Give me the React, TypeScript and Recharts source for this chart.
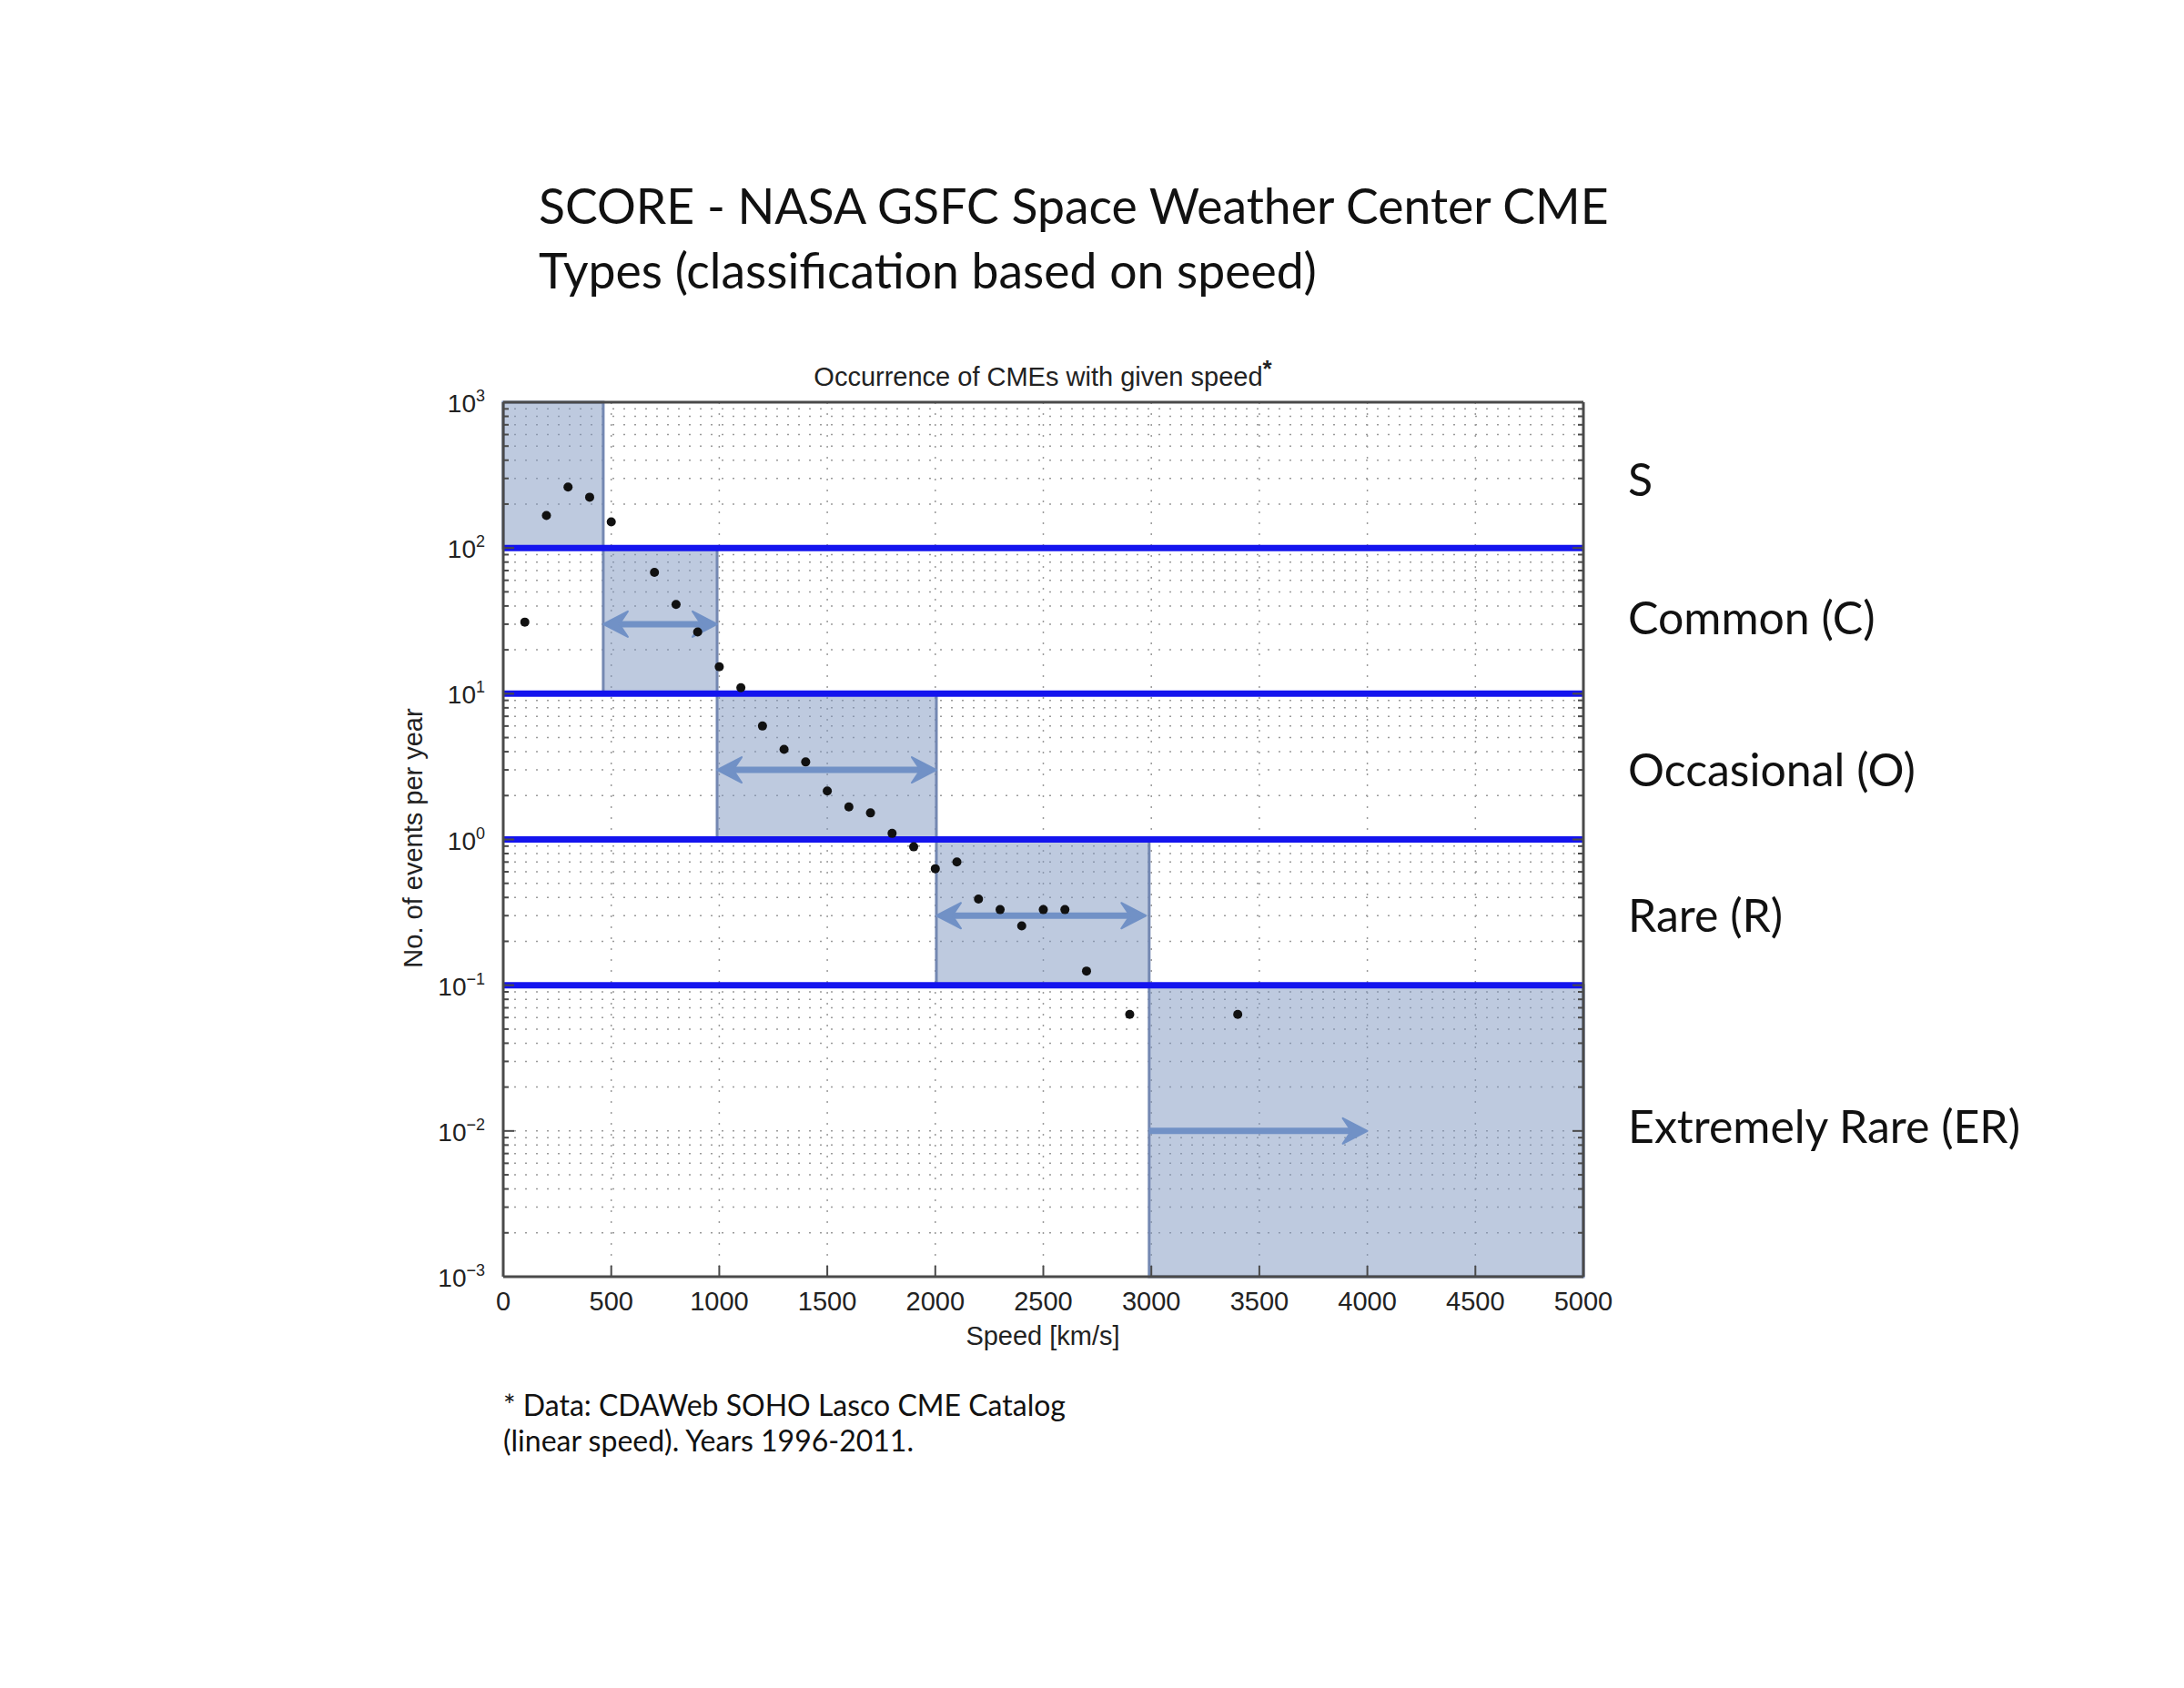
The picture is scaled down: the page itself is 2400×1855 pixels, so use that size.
import React from 'react';
import {
  CartesianGrid,
  ComposedChart,
  ReferenceArea,
  ReferenceLine,
  Scatter,
  XAxis,
  YAxis,
} from 'recharts';

// CME occurrence per 100 km/s speed bin
const speeds = [
  100, 200, 300, 400, 500, 700, 800, 900, 1000, 1100, 1200, 1300, 1400, 1500,
  1600, 1700, 1800, 1900, 2000, 2100, 2200, 2300, 2400, 2500, 2600, 2700, 2900, 3400,
];
const eventsPerYear = [
  31, 167, 262, 223, 151, 68, 41, 26.5, 15.3, 11, 6.0, 4.15, 3.4, 2.15,
  1.67, 1.52, 1.1, 0.89, 0.63, 0.7, 0.39, 0.33, 0.255, 0.33, 0.33, 0.125, 0.063, 0.063,
];

const xTicks = [0, 500, 1000, 1500, 2000, 2500, 3000, 3500, 4000, 4500, 5000];
const decades = [0.001, 0.01, 0.1, 1, 10, 100, 1000];
const minorSteps = [2, 3, 4, 5, 6, 7, 8, 9];

// classification boxes
const classLabels = ['S', 'Common (C)', 'Occasional (O)', 'Rare (R)', 'Extremely Rare (ER)'];
const classSpeedFrom = [0, 463, 990, 2005, 2990];
const classSpeedTo = [463, 990, 2005, 2990, 5000];
const classEventsLow = [100, 10, 1, 0.1, 0.001];
const classEventsHigh = [1000, 100, 10, 1, 0.1];
const thresholds = [100, 10, 1, 0.1];

// range arrows
const arrowFrom = [463, 990, 2005, 2990];
const arrowTo = [990, 2005, 2975, 4000];
const arrowLevel = [30, 3, 0.3, 0.01];
const arrowBothEnds = [true, true, true, false];

const points = speeds.map((speed, i) => ({ speed, events: eventsPerYear[i] }));
const yTicks = decades
  .slice(0, -1)
  .flatMap((d) => [d, ...minorSteps.map((m) => +(d * m).toPrecision(3))])
  .concat([1000]);

const isDecade = (v: number) => Math.abs(Math.log10(v) - Math.round(Math.log10(v))) < 1e-6;

const HELV = '"Liberation Sans", Arial, sans-serif';
const CALIBRI = 'Lato, "Open Sans", sans-serif';
const AXIS = '#4a4a4a';
const ARROW = '#7191c6';

function BottomTick(props: any) {
  const { x, y, payload } = props;
  return (
    <g>
      <line x1={x} y1={y} x2={x} y2={y - 12} stroke={AXIS} strokeWidth={2} />
      <text x={x} y={y + 37} textAnchor="middle" fontFamily={HELV} fontSize={29} fill="#222">
        {payload.value}
      </text>
    </g>
  );
}

function TopTick(props: any) {
  const { x, y } = props;
  return <line x1={x} y1={y} x2={x} y2={y + 12} stroke={AXIS} strokeWidth={2} />;
}

function LeftTick(props: any) {
  const { x, y, payload } = props;
  const major = isDecade(payload.value);
  const exp = Math.round(Math.log10(payload.value));
  return (
    <g>
      <line x1={x} y1={y} x2={x + (major ? 12 : 6)} y2={y} stroke={AXIS} strokeWidth={2} />
      {major && (
        <text x={x - 20} y={y + 11} textAnchor="end" fontFamily={HELV} fontSize={28} fill="#222">
          10
          <tspan dy={-12} fontSize={18}>
            {exp < 0 ? `\u2212${-exp}` : exp}
          </tspan>
        </text>
      )}
    </g>
  );
}

function RightTick(props: any) {
  const { x, y, payload } = props;
  const major = isDecade(payload.value);
  return <line x1={x} y1={y} x2={x - (major ? 12 : 6)} y2={y} stroke={AXIS} strokeWidth={2} />;
}

function Arrow(props: any) {
  const { x1, y1, x2, y2, both } = props;
  const len = 27;
  const half = 14;
  const head = (tx: number, dir: number) => {
    const bx = tx - dir * len;
    const nx = tx - dir * len * 0.65;
    return (
      <polygon
        points={`${tx},${y2} ${bx},${y2 - half} ${nx},${y2} ${bx},${y2 + half}`}
        fill={ARROW}
        stroke={ARROW}
        strokeWidth={2}
        strokeLinejoin="round"
      />
    );
  };
  const start = both ? x1 + len * 0.6 : x1;
  const end = x2 - len * 0.6;
  return (
    <g>
      <line x1={start} y1={y1} x2={end} y2={y2} stroke={ARROW} strokeWidth={7} />
      {head(x2, 1)}
      {both && head(x1, -1)}
    </g>
  );
}

function Dot(props: any) {
  return <circle cx={props.cx} cy={props.cy} r={5} fill="#111" />;
}

export default function App() {
  const labelBaselines = [545, 697, 864, 1024, 1256];
  return (
    <div style={{ position: 'absolute', left: 0, top: 0, width: 2400, height: 1855, background: '#fff' }}>
      <ComposedChart
        width={2400}
        height={1855}
        data={points}
        margin={{ top: 441, right: 659, bottom: 392, left: 473 }}
      >
        <CartesianGrid
          stroke="#9a9a9a"
          strokeWidth={1.5}
          strokeDasharray="2 10"
          horizontalValues={yTicks}
          verticalValues={xTicks}
        />
        <XAxis
          dataKey="speed"
          type="number"
          domain={[0, 5000]}
          ticks={xTicks}
          allowDataOverflow
          height={60}
          tickSize={0}
          tickMargin={0}
          tick={<BottomTick />}
          axisLine={{ stroke: AXIS, strokeWidth: 3 }}
          tickLine={false}
          interval={0}
        />
        <XAxis
          xAxisId="top"
          orientation="top"
          type="number"
          domain={[0, 5000]}
          ticks={xTicks}
          allowDataOverflow
          height={1}
          tickSize={0}
          tickMargin={0}
          tick={<TopTick />}
          axisLine={{ stroke: AXIS, strokeWidth: 3 }}
          tickLine={false}
          interval={0}
        />
        <YAxis
          dataKey="events"
          type="number"
          scale="log"
          domain={[0.001, 1000]}
          ticks={yTicks}
          allowDataOverflow
          width={80}
          tickSize={0}
          tickMargin={0}
          tick={<LeftTick />}
          axisLine={{ stroke: AXIS, strokeWidth: 3 }}
          tickLine={false}
          interval={0}
        />
        <YAxis
          yAxisId="right"
          orientation="right"
          type="number"
          scale="log"
          domain={[0.001, 1000]}
          ticks={yTicks}
          allowDataOverflow
          width={1}
          tickSize={0}
          tickMargin={0}
          tick={<RightTick />}
          axisLine={{ stroke: AXIS, strokeWidth: 3 }}
          tickLine={false}
          interval={0}
        />

        {classLabels.map((name, i) => (
          <ReferenceArea
            key={name}
            x1={classSpeedFrom[i]}
            x2={classSpeedTo[i]}
            y1={classEventsLow[i]}
            y2={classEventsHigh[i]}
            fill="#7d95bf"
            fillOpacity={0.5}
            stroke="#7488b2"
            strokeWidth={3}
            ifOverflow="visible"
          />
        ))}

        {thresholds.map((t) => (
          <ReferenceLine key={t} y={t} stroke="#1414ee" strokeWidth={7} />
        ))}

        <Scatter data={points} dataKey="events" shape={<Dot />} isAnimationActive={false} />

        {arrowFrom.map((from, i) => (
          <ReferenceLine
            key={`arrow-${i}`}
            segment={[
              { x: from, y: arrowLevel[i] },
              { x: arrowTo[i], y: arrowLevel[i] },
            ]}
            shape={(p: any) => <Arrow {...p} both={arrowBothEnds[i]} />}
          />
        ))}
      </ComposedChart>

      <svg
        width={2400}
        height={1855}
        style={{ position: 'absolute', left: 0, top: 0, pointerEvents: 'none' }}
      >
        <text x={592} y={246} fontFamily={CALIBRI} fontSize={53.5} fill="#111">
          SCORE - NASA GSFC Space Weather Center CME
        </text>
        <text x={592} y={317} fontFamily={CALIBRI} fontSize={53.5} fill="#111">
          Types (classification based on speed)
        </text>

        <text x={1146} y={424} textAnchor="middle" fontFamily={HELV} fontSize={29} fill="#222">
          Occurrence of CMEs with given speed
          <tspan dy={-10} fontWeight="bold" fontSize={26}>
            *
          </tspan>
        </text>

        <text x={1146} y={1478} textAnchor="middle" fontFamily={HELV} fontSize={29} fill="#222">
          Speed [km/s]
        </text>
        <text
          x={464}
          y={921}
          textAnchor="middle"
          fontFamily={HELV}
          fontSize={29}
          fill="#222"
          transform="rotate(-90 464 921)"
        >
          No. of events per year
        </text>

        {classLabels.map((name, i) => (
          <text key={name} x={1789} y={labelBaselines[i]} fontFamily={CALIBRI} fontSize={50} fill="#111">
            {name}
          </text>
        ))}

        <text x={553} y={1556} fontFamily={CALIBRI} fontSize={32} fill="#111">
          * Data: CDAWeb SOHO Lasco CME Catalog
        </text>
        <text x={553} y={1595} fontFamily={CALIBRI} fontSize={32} fill="#111">
          (linear speed). Years 1996-2011.
        </text>
      </svg>
    </div>
  );
}
